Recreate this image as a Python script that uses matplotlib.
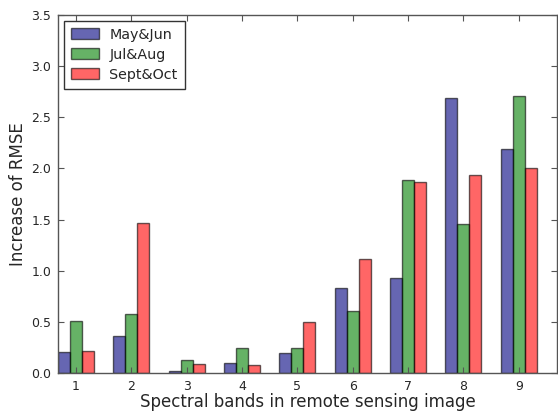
import numpy as np
import matplotlib
matplotlib.use("Agg")
import matplotlib.pyplot as plt

bands = [1, 2, 3, 4, 5, 6, 7, 8, 9]
may_jun = [0.21, 0.36, 0.02, 0.10, 0.20, 0.83, 0.925, 2.69, 2.19]
jul_aug = [0.505, 0.58, 0.13, 0.245, 0.24, 0.61, 1.89, 1.456, 2.71]
sept_oct = [0.215, 1.47, 0.085, 0.08, 0.50, 1.11, 1.87, 1.94, 2.00]
series_labels = ["May&Jun", "Jul&Aug", "Sept&Oct"]

plt.rcParams["font.family"] = "DejaVu Sans"
text_color = "#262626"

fig = plt.figure(figsize=(5.58, 4.13), dpi=100)
ax = fig.add_axes([58 / 558, 1 - 373 / 413, (557 - 58) / 558, (373 - 15) / 413])

x = np.array(bands, dtype=float)
width = 0.217
colors = ["navy", "green", "red"]
for i, (vals, lab, col) in enumerate(zip([may_jun, jul_aug, sept_oct], series_labels, colors)):
    ax.bar(x + (i - 1) * width, vals, width, color=col, alpha=0.6,
           edgecolor="black", linewidth=1.0, label=lab)

ax.set_xlim(0.675, 9.69)
ax.set_ylim(0, 3.5)
ax.set_xticks(bands)
ax.set_yticks(np.arange(0, 3.51, 0.5))
ax.set_yticklabels([f"{v:.1f}" for v in np.arange(0, 3.51, 0.5)])

for s in ax.spines.values():
    s.set_color("#555555")
    s.set_linewidth(1.0)
ax.tick_params(direction="in", top=True, right=True, length=4, width=0.8,
               color="#555555", labelsize=9, labelcolor=text_color, pad=5)

ax.set_xlabel("Spectral bands in remote sensing image", fontsize=12, color=text_color, labelpad=0)
ax.set_ylabel("Increase of RMSE", fontsize=12, color=text_color, labelpad=3)

leg = ax.legend(loc="upper left", fontsize=10.3, fancybox=False, framealpha=1,
                edgecolor="#333333", borderpad=0.5, handlelength=2.0, handleheight=0.8,
                handletextpad=0.7, labelspacing=0.42, borderaxespad=0.4)
for t in leg.get_texts():
    t.set_color(text_color)

fig.savefig("out.png", dpi=100)
